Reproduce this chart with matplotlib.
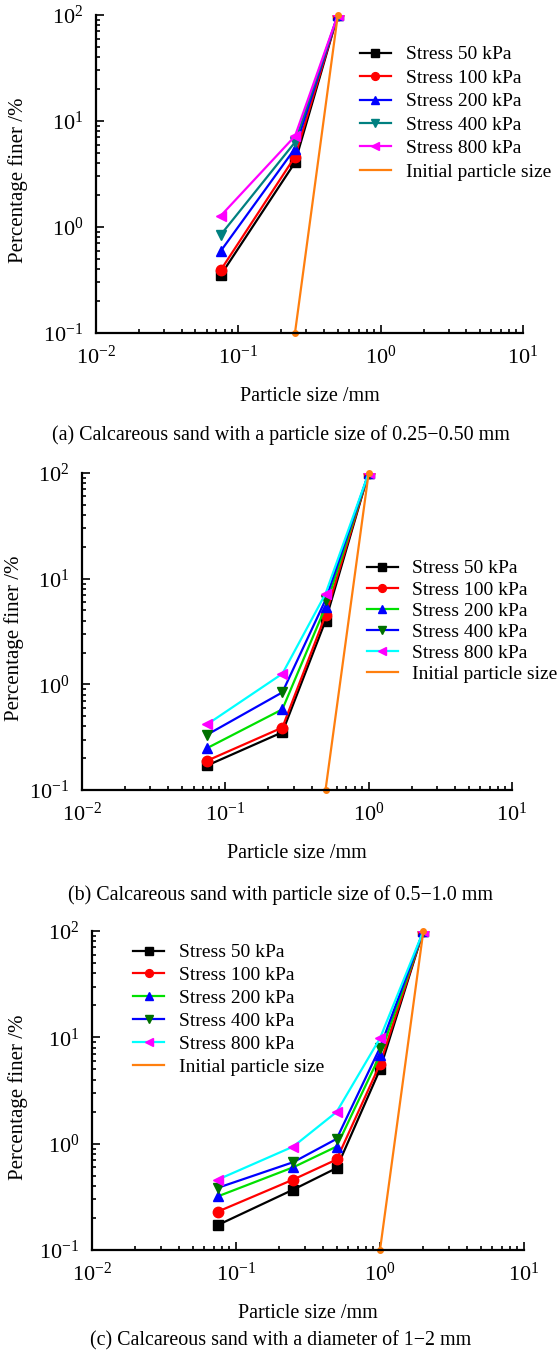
import numpy as np
import matplotlib
matplotlib.use('Agg')
from matplotlib import pyplot as plt

plt.rcParams['font.family'] = ['Liberation Serif', 'DejaVu Serif']
plt.rcParams['mathtext.fontset'] = 'stix'

# ---- data ----
labels = ['Stress 50 kPa', 'Stress 100 kPa', 'Stress 200 kPa', 'Stress 400 kPa', 'Stress 800 kPa']
init_label = 'Initial particle size'

# (a) 0.25-0.50 mm
x_a = [0.075, 0.25, 0.5]
y_a = [
    [0.35, 4.06, 100],
    [0.39, 4.6, 100],
    [0.59, 5.5, 100],
    [0.84, 6.3, 100],
    [1.27, 7.2, 100],
]
init_x_a = [0.25, 0.5]
init_y_a = [0.1, 100]

# (b) 0.5-1.0 mm
x_b = [0.075, 0.25, 0.5, 1.0]
y_b = [
    [0.171, 0.352, 4.0, 100],
    [0.19, 0.39, 4.5, 100],
    [0.25, 0.58, 5.4, 100],
    [0.335, 0.84, 6.3, 100],
    [0.42, 1.26, 7.2, 100],
]
init_x_b = [0.5, 1.0]
init_y_b = [0.1, 100]

# (c) 1-2 mm
x_c = [0.075, 0.25, 0.5, 1.0, 2.0]
y_c = [
    [0.172, 0.37, 0.59, 5.0, 100],
    [0.23, 0.46, 0.71, 5.6, 100],
    [0.32, 0.60, 0.94, 6.8, 100],
    [0.385, 0.67, 1.11, 8.0, 100],
    [0.46, 0.94, 1.99, 9.8, 100],
]
init_x_c = [1.0, 2.0]
init_y_c = [0.1, 100]

captions = ['(a) Calcareous sand with a particle size of 0.25\u22120.50 mm',
            '(b) Calcareous sand with particle size of 0.5\u22121.0 mm',
            '(c) Calcareous sand with a diameter of 1\u22122 mm']

markers = ['s', 'o', '^', 'v', '<']
# panel (a) styles
lc_a = ['black', 'red', 'blue', '#008080', 'magenta']
mc_a = ['black', 'red', 'blue', '#008080', 'magenta']
# panel (b), (c) styles
lc_bc = ['black', 'red', '#00e000', 'blue', 'cyan']
mc_bc = ['black', 'red', 'blue', '#007000', 'magenta']
orange = '#ff7f0e'

fig = plt.figure(figsize=(5.59, 13.55), dpi=100)
W, H = 559., 1355.

def add_axes(l, r, t, b):
    return fig.add_axes([l / W, 1 - b / H, (r - l) / W, (b - t) / H])

def draw(ax, xs, ys, ix, iy, lcs, mcs, leg_anchor, spacing, ylab_x):
    for y, lab, m, lc, mc in zip(ys, labels, markers, lcs, mcs):
        ax.plot(xs, y, '-', color=lc, marker=m, mfc=mc, mec=mc, ms=7.5, lw=1.6, label=lab)
    ax.plot(ix, iy, '-', color=orange, lw=1.6, label=init_label)
    ax.plot(ix, iy, 'o', color=orange, ms=4, clip_on=False)
    ax.set_xscale('log')
    ax.set_yscale('log')
    ax.set_xlim(1e-2, 1e1)
    ax.set_ylim(1e-1, 1e2)
    ax.spines['top'].set_visible(False)
    ax.spines['right'].set_visible(False)
    ax.spines['left'].set_linewidth(1.6)
    ax.spines['bottom'].set_linewidth(1.6)
    ax.tick_params(which='both', direction='in', width=1.2, labelsize=16)
    ax.tick_params(which='major', length=6)
    ax.tick_params(which='minor', length=3)
    ax.tick_params(axis='x', which='major', pad=9)
    ax.tick_params(axis='y', which='major', pad=9)
    ax.set_xlabel('Particle size /mm', fontsize=14.5, labelpad=13)
    ax.set_ylabel('Percentage finer /%', fontsize=15, va='center')
    # place the y label centre at a pixel column
    bb = ax.get_position()
    ax.yaxis.set_label_coords((ylab_x / W - bb.x0) / bb.width, 0.48)
    ax.legend(loc='upper left', bbox_to_anchor=leg_anchor, frameon=False, fontsize=14,
              handlelength=1.6, handletextpad=0.75, labelspacing=spacing, borderaxespad=0,
              borderpad=0, markerscale=0.75)

ax1 = add_axes(96, 523, 15, 333)
draw(ax1, x_a, y_a, init_x_a, init_y_a, lc_a, mc_a, (0.618, 0.903), 0.3, 18)
ax2 = add_axes(82, 512, 473, 790)
draw(ax2, x_b, y_b, init_x_b, init_y_b, lc_bc, mc_bc, (0.662, 0.726), 0.18, 14)
ax3 = add_axes(92, 524, 931, 1250)
draw(ax3, x_c, y_c, init_x_c, init_y_c, lc_bc, mc_bc, (0.095, 0.96), 0.27, 18)

for cap, xc, yc in zip(captions, [281, 281, 281], [435, 895, 1341]):
    fig.text(xc / W, 1 - yc / H, cap, ha='center', va='center', fontsize=14.4)

plt.savefig('out.png', dpi=100)
